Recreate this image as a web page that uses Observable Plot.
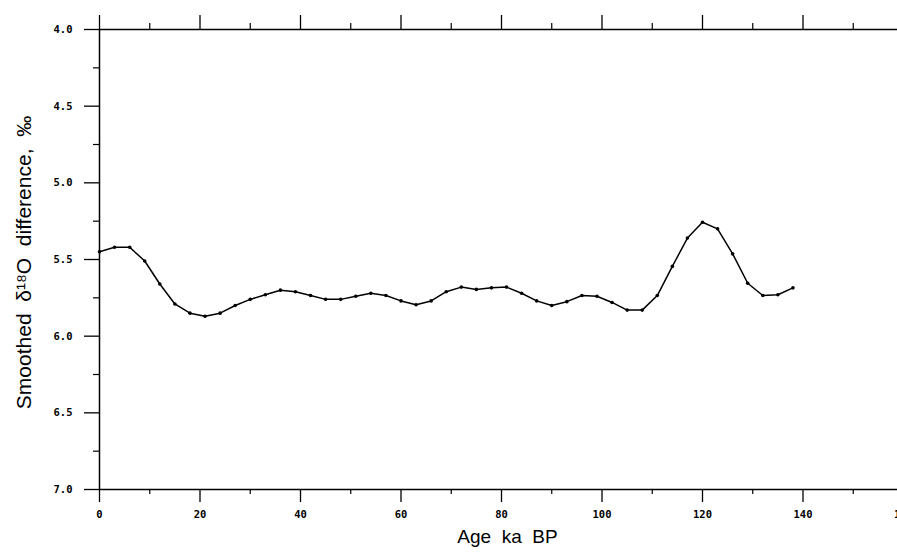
<!DOCTYPE html>
<html><head><meta charset="utf-8">
<script src="https://cdn.jsdelivr.net/npm/d3@7"></script>
<script src="https://cdn.jsdelivr.net/npm/@observablehq/plot@0.6"></script>
<style>body{margin:0;background:#fff;}</style>
</head><body><div id="chart"></div>
<script>
const ages = [0,3,6,9,12,15,18,21,24,27,30,33,36,39,42,45,48,51,54,57,60,63,66,69,72,75,78,81,84,87,90,93,96,99,102,105,108,111,114,117,120,123,126,129,132,135,138];
const values = [5.45,5.42,5.42,5.51,5.66,5.79,5.85,5.87,5.85,5.80,5.76,5.73,5.70,5.71,5.735,5.76,5.76,5.74,5.72,5.735,5.77,5.795,5.77,5.71,5.68,5.695,5.685,5.68,5.72,5.77,5.80,5.775,5.735,5.74,5.78,5.83,5.83,5.735,5.545,5.36,5.257,5.30,5.463,5.655,5.735,5.73,5.685];
const xMajorTicks = [0,20,40,60,80,100,120,140,160];
const xMinorTicks = [10,30,50,70,90,110,130,150];
const yMajorTicks = [4.0,4.5,5.0,5.5,6.0,6.5,7.0];
const yMinorTicks = [4.25,4.75,5.25,5.75,6.25,6.75];
const xTitle = "Age  ka  BP";
const yTitle = "Smoothed  δ¹⁸O  difference,  ‰";

const data = ages.map((a, i) => ({age: a, value: values[i]}));
const tickFont = {fontFamily: "DejaVu Sans Mono", fontSize: 10.5, fontWeight: "bold"};

const chart = Plot.plot({
  width: 897,
  height: 555,
  marginLeft: 99,
  marginRight: -6,
  marginTop: 29,
  marginBottom: 66,
  style: {fontFamily: "DejaVu Sans Mono", fontSize: "10.5px", fontWeight: "bold", background: "white", overflow: "visible"},
  x: {domain: [0, 160]},
  y: {domain: [4, 7], reverse: true},
  marks: [
    Plot.ruleY([4, 7], {stroke: "black", strokeWidth: 1.5, x1: 0, x2: 160}),
    Plot.ruleX([0], {stroke: "black", strokeWidth: 1.5}),
    Plot.axisX({anchor: "bottom", ticks: xMajorTicks, tickSize: 13, tickPadding: 8, tickFormat: d => String(d), label: null, strokeWidth: 1.3, ...tickFont}),
    Plot.axisX({anchor: "bottom", ticks: xMinorTicks, tickSize: 5, tickFormat: () => "", label: null, strokeWidth: 1.2}),
    Plot.axisX({anchor: "top", ticks: xMajorTicks, tickSize: 15, tickFormat: () => "", label: null, strokeWidth: 1.3}),
    Plot.axisX({anchor: "top", ticks: xMinorTicks, tickSize: 7, tickFormat: () => "", label: null, strokeWidth: 1.2}),
    Plot.axisY({anchor: "left", ticks: yMajorTicks, tickSize: 15, tickPadding: 12, tickFormat: d => d.toFixed(1), label: null, strokeWidth: 1.3, ...tickFont}),
    Plot.axisY({anchor: "left", ticks: yMinorTicks, tickSize: 6, tickFormat: () => "", label: null, strokeWidth: 1.2}),
    Plot.line(data, {x: "age", y: "value", stroke: "black", strokeWidth: 1.5}),
    Plot.dot(data, {x: "age", y: "value", r: 1.8, fill: "black", stroke: "none"}),
    Plot.text([xTitle], {text: d => d, frameAnchor: "bottom", textAnchor: "middle", dy: 53, dx: 6, fontFamily: "Liberation Sans", fontSize: 19, fontWeight: "normal", fill: "black"}),
    Plot.text([yTitle], {text: d => d, frameAnchor: "left", textAnchor: "middle", dx: -75, dy: 3, rotate: -90, fontFamily: "Liberation Sans", fontSize: 21, fontWeight: "normal", fill: "black"})
  ]
});
document.getElementById("chart").appendChild(chart);
</script>
</body></html>
